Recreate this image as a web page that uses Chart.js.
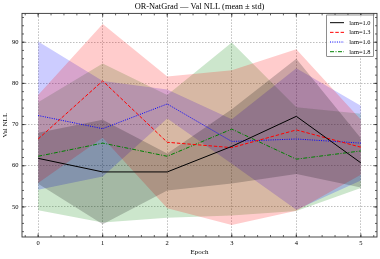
<!DOCTYPE html>
<html>
<head>
<meta charset="utf-8">
<script src="https://cdn.jsdelivr.net/npm/chart.js@4.4.1/dist/chart.umd.min.js"></script>
<style>
  html, body { margin: 0; padding: 0; background: #fff; }
  #wrap { width: 380px; height: 259px; }
</style>
</head>
<body>
<div id="wrap"><canvas id="chart" width="380" height="259"></canvas></div>
<script>
// data
const epochs = [0, 1, 2, 3, 4, 5];
const seriesLabels = ['lam=1.0', 'lam=1.3', 'lam=1.6', 'lam=1.8'];

const mean10 = [61.8, 58.5, 58.5, 64.7, 72.0, 60.7];
const std10  = [6.2, 12.7, 4.5, 9.0, 14.0, 6.0];
const mean13 = [66.5, 80.6, 65.7, 64.4, 68.7, 64.5];
const std13  = [10.7, 13.8, 16.0, 18.8, 19.6, 6.7];
const mean16 = [72.2, 69.0, 75.0, 65.9, 66.5, 65.5];
const std16  = [18.0, 11.6, 3.5, 5.4, 17.2, 9.1];
const mean18 = [62.3, 65.5, 62.3, 68.9, 61.6, 63.6];
const std18  = [13.1, 19.3, 14.9, 21.0, 12.6, 9.0];

const xTicks = [0, 1, 2, 3, 4, 5];
const yTicks = [50, 60, 70, 80, 90];

const FONT = "'Liberation Serif', 'DejaVu Serif', serif";

const styles = [
  { color: '#000000', band: 'rgba(0,0,0,0.2)',     dash: [] },
  { color: '#ff0000', band: 'rgba(255,0,0,0.2)',   dash: [3.5, 1.8] },
  { color: '#0000ff', band: 'rgba(0,0,255,0.2)',   dash: [1, 1.3] },
  { color: '#008000', band: 'rgba(0,128,0,0.2)',   dash: [4, 1.5, 1, 1.5] }
];
const means = [mean10, mean13, mean16, mean18];
const stds = [std10, std13, std16, std18];

const pts = arr => epochs.map((e, i) => ({ x: e, y: arr[i] }));

const datasets = [];
means.forEach((m, k) => {
  const s = stds[k];
  const st = styles[k];
  datasets.push({
    label: '', data: pts(m.map((v, i) => v + s[i])),
    borderWidth: 0, pointRadius: 0, fill: false, order: 2
  });
  datasets.push({
    label: '', data: pts(m.map((v, i) => v - s[i])),
    borderWidth: 0, pointRadius: 0, fill: '-1', backgroundColor: st.band, order: 2
  });
});
means.forEach((m, k) => {
  const st = styles[k];
  datasets.push({
    label: seriesLabels[k], isMean: true, data: pts(m),
    borderColor: st.color, borderWidth: 1, borderDash: st.dash,
    pointRadius: 0, fill: false, tension: 0, order: 1
  });
});

// frame + inward major/minor ticks on all four sides
const frameTicks = {
  id: 'frameTicks',
  afterDatasetsDraw(chart) {
    const { ctx, chartArea: a, scales } = chart;
    const xs = scales.x, ys = scales.y;
    ctx.save();
    ctx.strokeStyle = '#222';
    ctx.lineWidth = 0.7;
    const tick = (v, len, isX) => {
      ctx.beginPath();
      if (isX) {
        const p = xs.getPixelForValue(v);
        ctx.moveTo(p, a.bottom); ctx.lineTo(p, a.bottom - len);
        ctx.moveTo(p, a.top); ctx.lineTo(p, a.top + len);
      } else {
        const p = ys.getPixelForValue(v);
        ctx.moveTo(a.left, p); ctx.lineTo(a.left + len, p);
        ctx.moveTo(a.right, p); ctx.lineTo(a.right - len, p);
      }
      ctx.stroke();
    };
    for (let v = Math.ceil(xs.min / 0.2) * 0.2; v <= xs.max; v += 0.2) tick(v, 2, true);
    for (let v = Math.ceil(ys.min / 2) * 2; v <= ys.max; v += 2) tick(v, 2, false);
    xTicks.forEach(v => tick(v, 3.5, true));
    yTicks.forEach(v => tick(v, 3.5, false));
    ctx.lineWidth = 0.9;
    ctx.strokeStyle = '#333';
    ctx.strokeRect(a.left, a.top, a.right - a.left, a.bottom - a.top);
    ctx.restore();
  }
};

// legend box in upper right
const legendBox = {
  id: 'legendBox',
  afterDatasetsDraw(chart) {
    const { ctx, chartArea: a } = chart;
    const lines = chart.data.datasets.filter(d => d.isMean);
    const bx = a.right - 50.3, by = a.top + 1.6, bw = 46.6, bh = 41.7;
    ctx.save();
    ctx.fillStyle = 'rgba(255,255,255,0.85)';
    ctx.fillRect(bx, by, bw, bh);
    ctx.strokeStyle = '#444';
    ctx.lineWidth = 0.6;
    ctx.strokeRect(bx, by, bw, bh);
    ctx.font = '6.4px ' + FONT;
    ctx.textBaseline = 'middle';
    lines.forEach((d, i) => {
      const y = by + 7.7 + i * 9.67;
      ctx.beginPath();
      ctx.strokeStyle = d.borderColor;
      ctx.lineWidth = 1;
      ctx.setLineDash(d.borderDash);
      ctx.moveTo(bx + 3.3, y); ctx.lineTo(bx + 17.3, y);
      ctx.stroke();
      ctx.setLineDash([]);
      ctx.fillStyle = '#000';
      ctx.fillText(d.label, bx + 22.6, y + 0.3);
    });
    ctx.restore();
  }
};

new Chart(document.getElementById('chart'), {
  type: 'line',
  data: { datasets },
  options: {
    responsive: false,
    animation: false,
    devicePixelRatio: 1,
    layout: { padding: { left: 0, right: 3, top: 0, bottom: 0 } },
    plugins: {
      legend: { display: false },
      tooltip: { enabled: false },
      title: {
        display: true,
        text: 'OR-NatGrad — Val NLL (mean ± std)',
        color: '#000',
        fullSize: false,
        font: { family: FONT, size: 8.4, weight: 'normal', lineHeight: 1.2 },
        padding: { top: 1.3, bottom: 2 }
      }
    },
    scales: {
      x: {
        type: 'linear',
        min: -0.25, max: 5.25,
        afterBuildTicks: axis => { axis.ticks = xTicks.map(v => ({ value: v })); },
        afterFit: axis => { axis.height = 22; },
        grid: { color: 'rgba(110,110,110,0.75)', lineWidth: 0.6, drawTicks: false },
        border: { display: false, dash: [1.5, 1.5] },
        ticks: { color: '#000', padding: 2, maxRotation: 0, font: { family: FONT, size: 6.5 } },
        title: { display: true, text: 'Epoch', color: '#000', padding: 3,
                 font: { family: FONT, size: 7 } }
      },
      y: {
        type: 'linear',
        min: 42.7, max: 97,
        afterBuildTicks: axis => { axis.ticks = yTicks.map(v => ({ value: v })); },
        afterFit: axis => { axis.width = 22; },
        grid: { color: 'rgba(110,110,110,0.75)', lineWidth: 0.6, drawTicks: false },
        border: { display: false, dash: [1.5, 1.5] },
        ticks: { color: '#000', padding: 3.5, font: { family: FONT, size: 6.5 } },
        title: { display: true, text: 'Val NLL', color: '#000', padding: 1,
                 font: { family: FONT, size: 7 } }
      }
    }
  },
  plugins: [frameTicks, legendBox]
});
</script>
</body>
</html>
